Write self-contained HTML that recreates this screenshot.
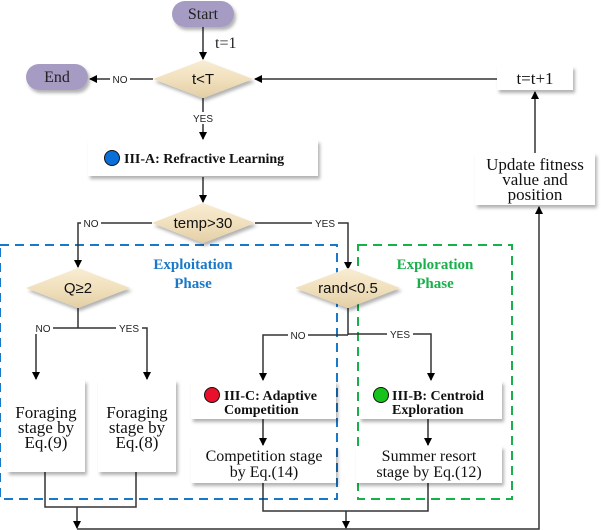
<!DOCTYPE html>
<html><head><meta charset="utf-8"><style>
html,body{margin:0;padding:0;background:#fff;}
svg{display:block;}
.s{font-family:"Liberation Serif",serif;}
.a{font-family:"Liberation Sans",sans-serif;}
</style></head><body>
<svg width="602" height="530" viewBox="0 0 602 530" xmlns="http://www.w3.org/2000/svg">
<defs>
<marker id="ar" markerWidth="8" markerHeight="8" refX="7" refY="4" orient="auto" markerUnits="userSpaceOnUse">
<path d="M0,0 L8,4 L0,8 z" fill="#000"/></marker>
<linearGradient id="dg" x1="0" y1="0" x2="0" y2="1"><stop offset="0" stop-color="#f8ecd2"/><stop offset="0.5" stop-color="#f1e0bd"/><stop offset="1" stop-color="#e3cfa6"/></linearGradient>
<filter id="sh" x="-10%" y="-10%" width="130%" height="140%"><feDropShadow dx="2" dy="3" stdDeviation="1.5" flood-color="#000" flood-opacity="0.3"/></filter>
</defs>
<rect x="0" y="245" width="337" height="254" fill="none" stroke="#1a78c8" stroke-width="2" stroke-dasharray="9,6"/>
<rect x="358" y="245" width="154" height="254" fill="none" stroke="#18b04a" stroke-width="2" stroke-dasharray="9,6"/>
<text x="193" y="269" class="s" font-weight="bold" font-size="15" fill="#1a78c8" text-anchor="middle">Exploitation</text>
<text x="193" y="288" class="s" font-weight="bold" font-size="15" fill="#1a78c8" text-anchor="middle">Phase</text>
<text x="435" y="269" class="s" font-weight="bold" font-size="15" fill="#18b04a" text-anchor="middle">Exploration</text>
<text x="435" y="288" class="s" font-weight="bold" font-size="15" fill="#18b04a" text-anchor="middle">Phase</text>

<g stroke="#333" stroke-width="1.5" fill="none">
<line x1="203" y1="27" x2="203" y2="59" marker-end="url(#ar)"/>
<line x1="153" y1="79" x2="90" y2="79" marker-end="url(#ar)"/>
<line x1="497" y1="79" x2="255" y2="79" marker-end="url(#ar)"/>
<line x1="203" y1="98" x2="203" y2="139" marker-end="url(#ar)"/>
<line x1="203" y1="177" x2="203" y2="202" marker-end="url(#ar)"/>
<polyline points="152,223 78,223 78,267" marker-end="url(#ar)"/>
<polyline points="255,223 348,223 348,269" marker-end="url(#ar)"/>
<polyline points="78,308 78,328"/>
<polyline points="78,328 36,328 36,379" marker-end="url(#ar)"/>
<polyline points="78,328 147,328 147,379" marker-end="url(#ar)"/>
<polyline points="348,308 348,335"/>
<polyline points="348,335 263,335 263,380" marker-end="url(#ar)"/>
<polyline points="348,334 431,334 431,380" marker-end="url(#ar)"/>
<line x1="263" y1="419" x2="263" y2="445" marker-end="url(#ar)"/>
<line x1="428" y1="419" x2="428" y2="445" marker-end="url(#ar)"/>
<polyline points="45,472 45,507 136,507 136,472"/>
<line x1="77" y1="507" x2="77" y2="528" marker-end="url(#ar)"/>
<polyline points="263,483 263,511 428,511 428,483"/>
<line x1="346" y1="511" x2="346" y2="528" marker-end="url(#ar)"/>
<polyline points="77,529 539,529 539,207" marker-end="url(#ar)"/>
<line x1="535" y1="153" x2="535" y2="92" marker-end="url(#ar)"/>
</g>

<g class="a" font-size="10" fill="#222" text-anchor="middle">
<rect x="110" y="73" width="20" height="12" fill="#fff"/><text x="120" y="83">NO</text>
<rect x="190" y="112" width="26" height="12" fill="#fff"/><text x="203" y="122">YES</text>
<rect x="81" y="217" width="20" height="12" fill="#fff"/><text x="91" y="227">NO</text>
<rect x="312" y="217" width="26" height="12" fill="#fff"/><text x="325" y="227">YES</text>
<rect x="33" y="322" width="20" height="12" fill="#fff"/><text x="43" y="332">NO</text>
<rect x="116" y="322" width="26" height="12" fill="#fff"/><text x="129" y="332">YES</text>
<rect x="288" y="329" width="20" height="12" fill="#fff"/><text x="298" y="339">NO</text>
<rect x="387" y="328" width="26" height="12" fill="#fff"/><text x="400" y="338">YES</text>
</g>
<text x="215" y="48" class="s" font-size="16" fill="#222">t=1</text>

<rect x="172" y="1" width="62" height="26" rx="13" fill="#a69bc3" filter="url(#sh)"/>
<text x="203" y="19" class="s" font-size="16" fill="#222" text-anchor="middle">Start</text>
<rect x="26" y="64" width="62" height="26" rx="13" fill="#a69bc3" filter="url(#sh)"/>
<text x="57" y="82" class="s" font-size="16" fill="#222" text-anchor="middle">End</text>

<g filter="url(#sh)" fill="url(#dg)">
<polygon points="153,79 203,60 253,79 203,98"/>
<polygon points="152,223 203,203 255,223 203,243"/>
<polygon points="26,288 78,268 130,288 78,308"/>
<polygon points="295,288 348,268 400,288 348,308"/>
</g>
<g class="a" font-size="15" fill="#111" text-anchor="middle">
<text x="203" y="84">t&lt;T</text>
<text x="203" y="228">temp&gt;30</text>
<text x="78" y="293">Q≥2</text>
<text x="348" y="293">rand&lt;0.5</text>
</g>

<g fill="#fff" filter="url(#sh)">
<rect x="497" y="66" width="76" height="24"/>
<rect x="475" y="153" width="120" height="52"/>
<rect x="88" y="140" width="230" height="36"/>
<rect x="7" y="380" width="78" height="92"/>
<rect x="98" y="380" width="78" height="92"/>
<rect x="191" y="381" width="145" height="38"/>
<rect x="191" y="446" width="145" height="37"/>
<rect x="359" y="381" width="143" height="38"/>
<rect x="356" y="446" width="146" height="37"/>
</g>
<g class="s" fill="#111" text-anchor="middle">
<text x="535" y="84" font-size="17">t=t+1</text>
<text x="535" y="170" font-size="17">Update fitness</text>
<text x="535" y="185" font-size="17">value and</text>
<text x="535" y="200" font-size="17">position</text>
<text x="46" y="418" font-size="17">Foraging</text>
<text x="46" y="433" font-size="17">stage by</text>
<text x="46" y="448" font-size="17">Eq.(9)</text>
<text x="137" y="418" font-size="17">Foraging</text>
<text x="137" y="433" font-size="17">stage by</text>
<text x="137" y="448" font-size="17">Eq.(8)</text>
<text x="264" y="461" font-size="16">Competition stage</text>
<text x="264" y="477" font-size="16">by Eq.(14)</text>
<text x="429" y="461" font-size="16">Summer resort</text>
<text x="429" y="477" font-size="16">stage by Eq.(12)</text>
</g>
<g class="s" font-weight="bold" font-size="14" fill="#111">
<circle cx="112" cy="158" r="7.5" fill="#0a6fd6" stroke="#111" stroke-width="1"/>
<text x="124" y="163">III-A: Refractive Learning</text>
<circle cx="212" cy="395" r="7.5" fill="#e8102a" stroke="#111" stroke-width="1"/>
<text x="224" y="400">III-C: Adaptive</text>
<text x="224" y="414">Competition</text>
<circle cx="381" cy="395" r="7.5" fill="#14c41a" stroke="#111" stroke-width="1"/>
<text x="392" y="400">III-B: Centroid</text>
<text x="392" y="414">Exploration</text>
</g>
</svg>
</body></html>
